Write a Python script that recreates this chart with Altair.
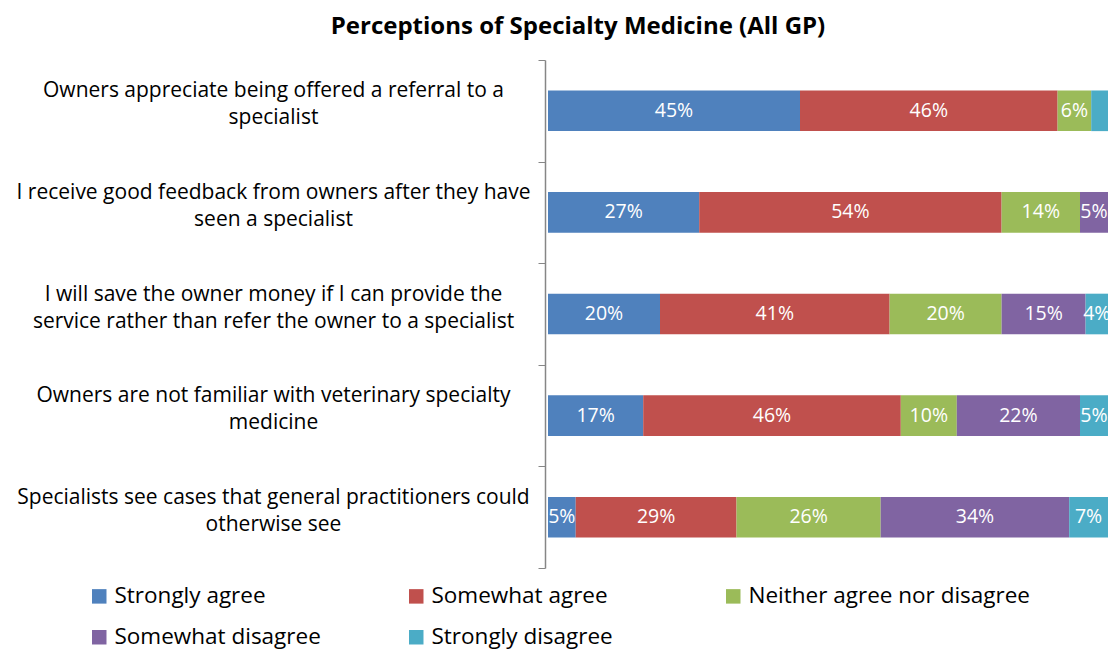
import altair as alt
import pandas as pd

questions = [
    "Owners appreciate being offered a referral to a|specialist",
    "I receive good feedback from owners after they have|seen a specialist",
    "I will save the owner money if I can provide the|service rather than refer the owner to a specialist",
    "Owners are not familiar with veterinary specialty|medicine",
    "Specialists see cases that general practitioners could|otherwise see",
]
responses = ["Strongly agree", "Somewhat agree", "Neither agree nor disagree",
             "Somewhat disagree", "Strongly disagree"]
colors = ["#4F81BD", "#C0504D", "#9BBB59", "#8064A2", "#4BACC6"]

strongly_agree = [45, 27, 20, 17, 5]
somewhat_agree = [46, 54, 41, 46, 29]
neither = [6, 14, 20, 10, 26]
somewhat_disagree = [0, 5, 15, 22, 34]
strongly_disagree = [3, 0, 4, 5, 7]

series = [strongly_agree, somewhat_agree, neither, somewhat_disagree, strongly_disagree]
rows = []
for qi, q in enumerate(questions):
    for ri, r in enumerate(responses):
        rows.append({"question": q, "response": r, "order": ri, "value": series[ri][qi]})
df = pd.DataFrame(rows)

FONT = "Open Sans"

base = alt.Chart(df).transform_stack(
    stack="value", groupby=["question"], as_=["v0", "v1"],
    offset="normalize", sort=[alt.SortField("order", order="ascending")]
).transform_calculate(
    mid="(datum.v0 + datum.v1) / 2",
    label="datum.value + '%'"
)

yenc = alt.Y("question:N", sort=questions, title=None,
             scale=alt.Scale(paddingInner=0, paddingOuter=0),
             axis=alt.Axis(labelExpr="split(datum.label, '|')", labelAlign="center",
                           labelBaseline="middle",
                           labelPadding=265, labelOffset=-20, labelLineHeight=27,
                           labelFont=FONT, labelFontSize=21, labelColor="#000000",
                           labelLimit=0,
                           tickBand="extent", tickSize=7, tickColor="#868686",
                           domainColor="#868686", domainWidth=1.5, offset=3))

bars = base.mark_bar(height={"band": 0.4}).encode(
    y=yenc,
    x=alt.X("v0:Q", axis=None, scale=alt.Scale(domain=[0, 1], nice=False)),
    x2="v1:Q",
    color=alt.Color("response:N", sort=responses,
                    scale=alt.Scale(domain=responses, range=colors),
                    legend=alt.Legend(title=None, orient="none", direction="horizontal",
                                      legendX=-460, legendY=525,
                                      columns=3, gridAlign="all", columnPadding=8,
                                      rowPadding=18, symbolType="square", symbolSize=210,
                                      symbolStrokeWidth=0, labelFont=FONT, labelFontSize=22.5,
                                      labelColor="#000000", labelOffset=4, labelLimit=0)),
)

texts = base.transform_filter("datum.value >= 4").mark_text(
    color="white", font=FONT, fontSize=19.5, baseline="middle", align="center"
).encode(
    y=alt.Y("question:N", sort=questions),
    x=alt.X("mid:Q"),
    text="label:N",
)

chart = alt.layer(bars, texts).properties(
    width=560, height=508,
    padding={"left": 540, "top": 52, "right": 2, "bottom": 86},
    autosize=alt.AutoSizeParams(type="none"),
    title=alt.Title("Perceptions of Specialty Medicine (All GP)", font=FONT, fontSize=24,
                    fontWeight="bold", color="#000000", anchor="middle", dx=-250, offset=10),
).configure_view(stroke=None)

chart.save("out.html", embed_options={"renderer": "svg", "actions": False})
